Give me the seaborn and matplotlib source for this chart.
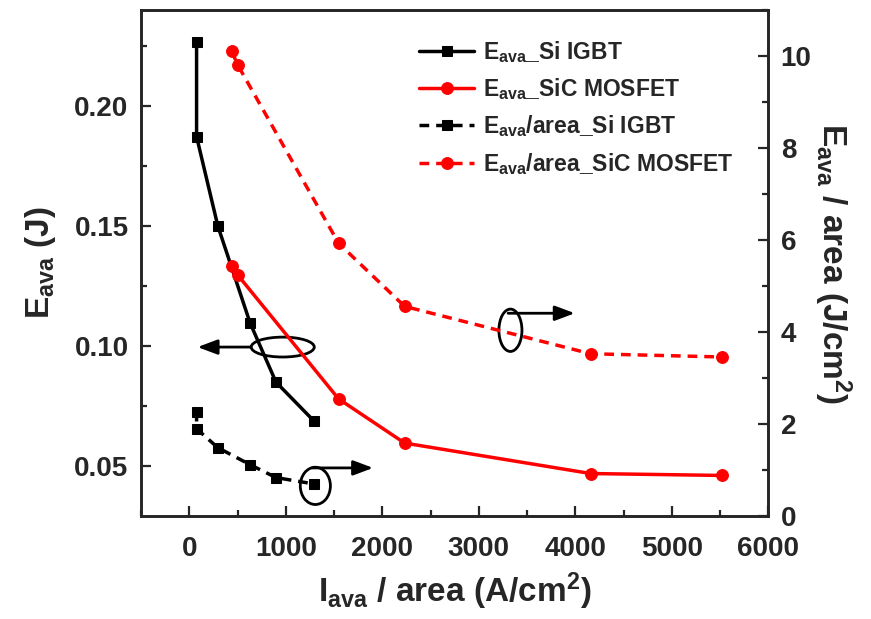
"""
Avalanche energy vs avalanche current density, Si IGBT vs SiC MOSFET
"""

import numpy as np
import pandas as pd
import seaborn as sns
import matplotlib.pyplot as plt
from matplotlib.patches import Ellipse
from matplotlib.ticker import MultipleLocator

# --- Data ---
si_x = [75, 75, 295, 630, 898, 1296]
si_e = [0.2265, 0.1872, 0.150, 0.1095, 0.0849, 0.0685]
si_e_area = [2.27, 1.90, 1.49, 1.12, 0.84, 0.70]

sic_x = [440, 500, 1547, 2231, 4159, 5519]
sic_e = [0.1333, 0.1296, 0.0779, 0.0595, 0.0468, 0.0460]
sic_e_area = [10.10, 9.81, 5.93, 4.56, 3.53, 3.46]

labels = [r"E$_{ava}$_Si IGBT", r"E$_{ava}$_SiC MOSFET",
          r"E$_{ava}$/area_Si IGBT", r"E$_{ava}$/area_SiC MOSFET"]

si = pd.DataFrame({"x": si_x, "e": si_e, "ea": si_e_area})
sic = pd.DataFrame({"x": sic_x, "e": sic_e, "ea": sic_e_area})

# --- Style ---
sns.set_style("ticks")
plt.rcParams["font.family"] = ["Liberation Sans", "DejaVu Sans"]
plt.rcParams["font.weight"] = "bold"
plt.rcParams["axes.labelweight"] = "bold"
plt.rcParams["mathtext.fontset"] = "custom"
plt.rcParams["mathtext.rm"] = "Liberation Sans:bold"
plt.rcParams["mathtext.bf"] = "Liberation Sans:bold"
plt.rcParams["mathtext.it"] = "Liberation Sans:bold"
plt.rcParams["mathtext.default"] = "bf"
plt.rcParams["axes.linewidth"] = 1.9

fig = plt.figure(figsize=(8.71, 6.19), dpi=100)
ax = fig.add_axes([0.162, 0.166, 0.720, 0.818])
ax2 = ax.twinx()

lw = 2.5
dash = (0, (2.8, 2.0))
sns.lineplot(data=si, x="x", y="e", ax=ax, estimator=None, sort=False,
             color="black", lw=lw, marker="s", markersize=7.5, mec="black",
             label=labels[0])
sns.lineplot(data=sic, x="x", y="e", ax=ax, estimator=None, sort=False,
             color="red", lw=lw, marker="o", markersize=8.5, mec="red",
             label=labels[1])
sns.lineplot(data=si, x="x", y="ea", ax=ax2, estimator=None, sort=False,
             color="black", lw=lw, ls=dash, marker="s", markersize=7.5,
             mec="black", label=labels[2])
sns.lineplot(data=sic, x="x", y="ea", ax=ax2, estimator=None, sort=False,
             color="red", lw=lw, ls=dash, marker="o", markersize=8.5,
             mec="red", label=labels[3])

for a in (ax, ax2):
    if a.get_legend() is not None:
        a.get_legend().remove()

# --- Axes ---
ax.set_xlim(-500, 6000)
ax.set_ylim(0.029, 0.24)
ax2.set_ylim(0, 11)
ax.xaxis.set_major_locator(MultipleLocator(1000))
ax.xaxis.set_minor_locator(MultipleLocator(500))
ax.yaxis.set_major_locator(MultipleLocator(0.05))
ax.yaxis.set_minor_locator(MultipleLocator(0.025))
ax.yaxis.set_major_formatter(plt.FormatStrFormatter("%.2f"))
ax2.yaxis.set_major_locator(MultipleLocator(2))
ax2.yaxis.set_minor_locator(MultipleLocator(1))

for a in (ax, ax2):
    a.tick_params(which="major", direction="in", length=7, width=1.6,
                  labelsize=20, pad=9)
    a.tick_params(which="minor", direction="in", length=4, width=1.6)
    for s in a.spines.values():
        s.set_visible(True)
        s.set_linewidth(1.9)
ax.tick_params(axis="y", which="both", right=False)
ax.tick_params(axis="x", which="both", top=False, pad=14)

ax.set_xlabel(r"I$_{ava}$ / area (A/cm$^{2}$)", fontsize=24, labelpad=6)
ax.set_ylabel(r"E$_{ava}$ (J)", fontsize=24, labelpad=12)
ax2.set_ylabel(r"E$_{ava}$ / area (J/cm$^{2}$)", fontsize=24,
               rotation=270, labelpad=30)

# --- Legend ---
h1, l1 = ax.get_legend_handles_labels()
h2, l2 = ax2.get_legend_handles_labels()
ax2.legend(h1 + h2, l1 + l2, loc="upper left", bbox_to_anchor=(0.418, 0.975),
           frameon=False, fontsize=16.5, handlelength=2.4, labelspacing=0.5,
           handletextpad=0.4, borderaxespad=0.3)

# --- Ellipse / arrow markers pointing at the axes ---
arrow = dict(arrowstyle="-|>,head_length=0.8,head_width=0.3", color="black",
             lw=2, shrinkA=0, shrinkB=0, mutation_scale=15)

ax.add_patch(Ellipse((968, 0.0995), 654, 0.0083, fill=False, lw=2,
                     ec="black", transform=ax.transData))
ax.annotate("", xy=(85, 0.0995), xytext=(640, 0.0995), arrowprops=arrow)

ax2.add_patch(Ellipse((1306, 0.66), 312, 0.81, fill=False, lw=2,
                      ec="black", transform=ax2.transData))
ax2.annotate("", xy=(1905, 1.05), xytext=(1272, 1.05), arrowprops=arrow)

ax2.add_patch(Ellipse((3328, 4.04), 239, 0.92, fill=False, lw=2,
                      ec="black", transform=ax2.transData))
ax2.annotate("", xy=(3995, 4.41), xytext=(3304, 4.41), arrowprops=arrow)

fig.savefig("out.png", dpi=100)
